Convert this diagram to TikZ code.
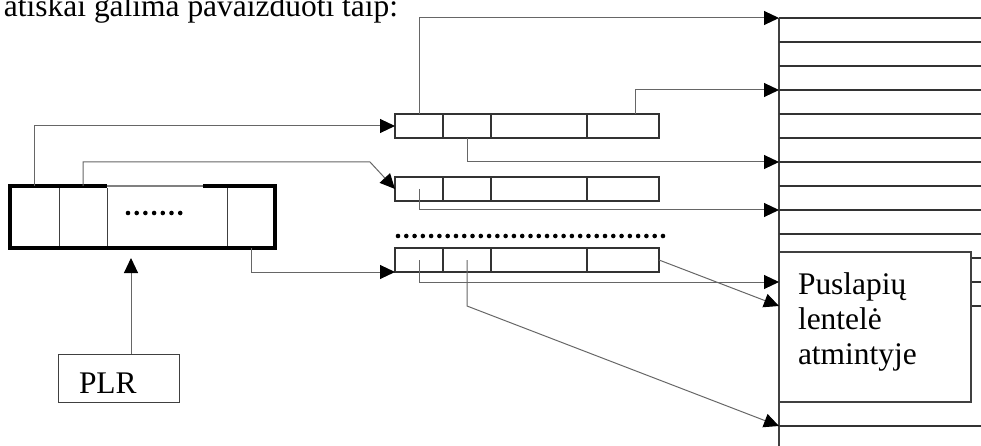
\documentclass[tikz,border=0pt]{standalone}
\usepackage{fontspec}
\setmainfont{Liberation Serif}
\newfontfamily\diagfont{Liberation Serif}[Scale=1.3]
\usetikzlibrary{arrows.meta}

\begin{document}
\begin{tikzpicture} [x=1pt,y=-1pt,
	every node/.style={inner sep=0pt,outer sep=0pt,font=\diagfont\fontsize{24.2}{35}\selectfont},
	cell/.style={draw=black!80,line width=1.2pt,anchor=north west,minimum height=24},
	slot/.style={draw=black!75,line width=1pt,anchor=north west,minimum height=62},
	link/.style={draw=black!60,line width=1pt},
	>={Triangle[length=15pt,width=14pt,color=black]}]
	\useasboundingbox (0,0) rectangle (981,446);

	\node[anchor=base west] (caption) at (4,17) {atiškai galima pavaizduoti taip:};

	% register with its slots
	\node[slot,minimum width=49] (bigA) at (10,186) {};
	\node[slot,minimum width=48] (bigB) at (bigA.north east) {};
	\node[slot,minimum width=120] (bigC) at (bigB.north east) {};
	\node[slot,minimum width=48] (bigD) at (bigC.north east) {};
	\draw[line width=3.2pt] (bigA.north west) rectangle (bigD.south east);
	\draw[white,line width=3.2pt] (bigC.north west) -- ++(96,0);
	\draw[black!50,line width=1.8pt] (bigC.north west) -- ++(96,0);
	\foreach \i in {0,...,6}
		\fill ({128+8.7*\i},213) circle [radius=2.3pt];

	\node[draw=black!75,line width=1pt,anchor=north west,minimum width=121,minimum height=48,
		text width=79,align=left,inner xsep=21pt,inner ysep=9pt,text height=30pt,text depth=0pt] (plr) at (58,354) {PLR};

	% table rows
	\foreach \k/\ty in {1/114,2/177,3/248} {
		\node[cell,minimum width=48] (r\k-a) at (395,\ty) {};
		\node[cell,minimum width=48] (r\k-b) at (r\k-a.north east) {};
		\node[cell,minimum width=96] (r\k-c) at (r\k-b.north east) {};
		\node[cell,minimum width=72] (r\k-d) at (r\k-c.north east) {};
	}
	\foreach \i in {0,...,32}
		\fill ({398+8.28*\i},236) circle [radius=2.3pt];

	% memory column
	\foreach \i in {0,...,17}
		\coordinate (m\i) at (779,{18+24*\i});
	\coordinate (colbot) at (779,446);
	\draw[black!75,line width=1.2pt] (m0) -- (colbot);
	\foreach \i in {0,...,9,17}
		\draw[black!80,line width=1.2pt] (m\i) -- ++(202,0);
	\foreach \i in {10,11,12}
		\draw[black!80,line width=1.2pt] ([xshift=192pt]m\i) -- ++(10,0);
	\node[draw=black!75,line width=1.2pt,anchor=north west,minimum width=192,minimum height=150] (ptable) at (779,252) {};
	\node[anchor=north west,align=left] (ptext) at (798,273) {Puslapių\\lentelė\\atmintyje};

	\coordinate (turn) at (370,162);
	\coordinate (plrtip) at (131,258);
	\draw[link,->] (bigA.north) |- (r1-a.west);
	\draw[link,->] (bigB.north) |- (turn) -- (r2-a.west);
	\draw[link,->] (bigD.south) |- (r3-a.south west);
	\draw[link,->] (plr.north -| plrtip) -- (plrtip);
	\foreach \from/\to in {r1-a.north/m0,r1-b.south/m6,r2-a.center/m8,r3-a.center/m11}
		\draw[link,->] (\from) |- (\to);
	\draw[link,->] ([xshift=12pt]r1-d.north) |- (m3);
	\draw[link,->] (r3-d.east) -- (m12);
	\draw[link,->] (r3-b.center) -- (r3-b.center |- m12) -- (m17);
\end{tikzpicture}
\end{document}
